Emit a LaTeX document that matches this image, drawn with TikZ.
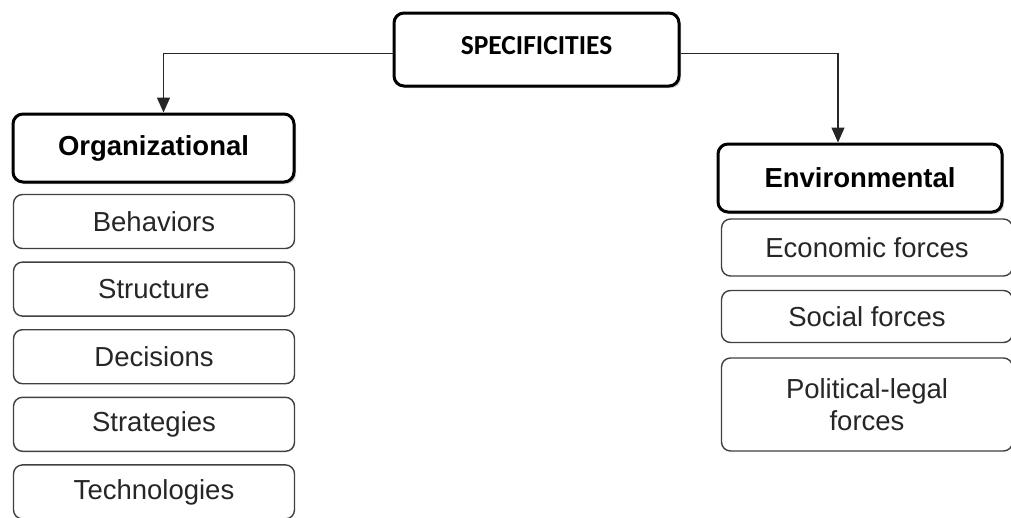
\documentclass[tikz,border=0pt]{standalone}
\usepackage{fontspec}
\setmainfont{Liberation Sans}
\newfontfamily\calibrifont{Carlito}
\usetikzlibrary{arrows.meta,shadows}

\begin{document}
\begin{tikzpicture}[x=1pt,y=1pt,
			top node/.style={rectangle,rounded corners=10pt,draw=black,line width=3pt,fill=white,
				minimum width=285pt,minimum height=73pt,text height=19pt,text depth=10pt,
				font=\calibrifont\bfseries\fontsize{27.5}{32}\selectfont,
				drop shadow={shadow xshift=2pt,shadow yshift=-2pt,fill=black!40,opacity=0.5}},
			head node/.style={rectangle,rounded corners=10pt,draw=black,line width=3pt,fill=white,
				minimum height=68pt,font=\bfseries\fontsize{27.5}{32}\selectfont,
				drop shadow={shadow xshift=2pt,shadow yshift=-2pt,fill=black!40,opacity=0.5}},
			item node/.style={rectangle,rounded corners=9pt,draw=black!75,line width=1.4pt,fill=white,
				align=center,text=black!85,font=\fontsize{27.5}{32}\selectfont},
			link/.style={-{Triangle[width=13pt,length=15pt]},line width=1.3pt,draw=black!85}
			]

			\useasboundingbox (0,0) rectangle (1011,-517);

			\node[top node] at (536.5,-49.5) (spec) {SPECIFICITIES};

			% organizational side
			\node[head node,minimum width=281pt] at (153.5,-148) (org) {Organizational};
			\foreach \t [count=\i] in {Behaviors,Structure,Decisions,Strategies,Technologies} {
				\node[item node,minimum width=281pt,minimum height=54pt] at (154,{-221.5-67.6*(\i-1)}) (o\i) {\t};
			}

			% environmental side
			\node[head node,minimum width=284pt] at (860,-178) (env) {Environmental};
			\node[item node,minimum width=291pt,minimum height=57pt] at (867,-247.5) (e1) {Economic forces};
			\node[item node,minimum width=291pt,minimum height=52pt] at (867,-316.5) (e2) {Social forces};
			\node[item node,minimum width=291pt,minimum height=93pt] at (867,-404.5) (e3) {Political-legal\\forces};

			\draw[link] ([yshift=-4pt]spec.west) -| ([xshift=10pt]org.north);
			\draw[link] ([yshift=-4pt]spec.east) -| ([xshift=-22pt]env.north);
		\end{tikzpicture}
\end{document}
